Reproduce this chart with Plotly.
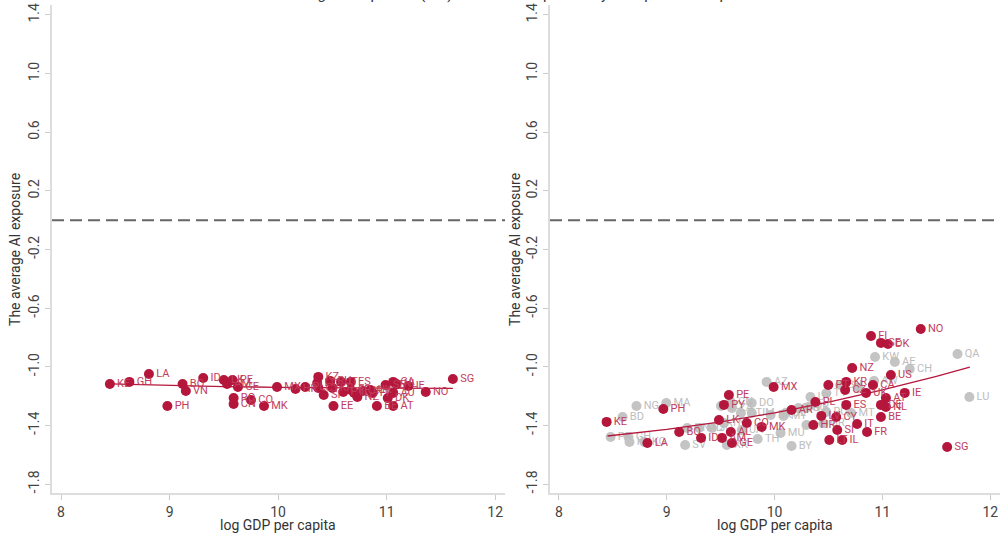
import plotly.graph_objects as go

# ---------------- data: left panel ----------------
left_codes = ["KE","GH","LA","PH","BO","VN","ID","LK","AM","PE","GE","RO","CN","CO","MK","MX",
              "HR","PL","KZ","LT","CY","SI","RU","KR","IT","PT","ES","FR","IL","NZ","JP","UK",
              "FI","EE","BE","SE","CA","NL","DK","AU","AT","IE","NO","SG"]
left_x = [8.45,8.63,8.81,8.98,9.12,9.15,9.31,9.50,9.53,9.58,9.63,9.59,9.59,9.75,9.87,9.99,
          10.16,10.25,10.37,10.36,10.37,10.42,10.48,10.50,10.58,10.60,10.67,10.67,10.70,10.73,10.78,10.85,
          10.87,10.51,10.91,10.99,11.06,11.09,11.01,11.06,11.06,11.20,11.36,11.61]
left_y = [-1.117,-1.103,-1.049,-1.267,-1.117,-1.165,-1.076,-1.090,-1.117,-1.090,-1.137,-1.213,-1.254,-1.226,-1.267,-1.138,
          -1.151,-1.138,-1.069,-1.110,-1.144,-1.192,-1.097,-1.144,-1.103,-1.172,-1.103,-1.158,-1.178,-1.206,-1.165,-1.158,
          -1.178,-1.267,-1.267,-1.124,-1.103,-1.117,-1.213,-1.178,-1.267,-1.131,-1.172,-1.083]
left_fit_x = [8.45, 9.0, 9.5, 10.0, 10.5, 11.0, 11.61]
left_fit_y = [-1.117, -1.127, -1.135, -1.140, -1.144, -1.146, -1.147]

# ---------------- data: right panel ----------------
red_codes = ["KE","PH","LA","BO","ID","AM","GE","PE","PY","LK","AL","CO","MK","MX",
             "AR","PL","HR","LV","LT","SI","IL","CY","ES","IT","FR","BE","NL","AT","DE","IE",
             "UK","CA","KR","PT","CZ","US","NZ","FI","SE","DK","NO","SG"]
red_x = [8.442,8.968,8.820,9.115,9.318,9.512,9.604,9.576,9.530,9.484,9.594,9.742,9.880,9.991,
         10.157,10.378,10.359,10.433,10.507,10.581,10.627,10.571,10.664,10.765,10.857,10.986,11.032,11.032,10.986,11.207,
         10.848,10.912,10.664,10.498,10.654,11.078,10.719,10.894,10.986,11.051,11.355,11.600]
red_y = [-1.376,-1.288,-1.520,-1.445,-1.485,-1.485,-1.520,-1.192,-1.260,-1.363,-1.445,-1.383,-1.410,-1.138,
         -1.295,-1.240,-1.397,-1.335,-1.499,-1.431,-1.499,-1.342,-1.260,-1.390,-1.445,-1.342,-1.274,-1.213,-1.260,-1.178,
         -1.178,-1.124,-1.103,-1.124,-1.158,-1.056,-1.008,-0.790,-0.837,-0.844,-0.742,-1.547]

gray_codes = ["PK","BD","NG","MA","GH","KH","KG","SV","HN","MD","JO","TN","UA","GT","JM","DO",
              "EC","CN","ZA","BR","TH","MU","XK","AZ","CL","BY","KW","AE","CH","QA","AW","JP",
              "BH","TT","LU","MT","UY","MY","BG","RO","TR","HU","RU","GR"]
gray_x = [8.479,8.590,8.719,8.995,8.645,8.654,8.793,9.170,9.189,9.300,9.419,9.530,9.696,9.687,9.788,9.788,
          9.502,9.594,9.604,9.963,9.843,10.055,9.557,9.926,10.101,10.157,10.931,11.115,11.253,11.696,10.922,10.774,
          10.608,10.479,11.806,10.710,10.332,10.083,10.221,10.286,10.313,10.295,10.479,10.452]
gray_y = [-1.479,-1.342,-1.267,-1.247,-1.479,-1.513,-1.513,-1.533,-1.418,-1.418,-1.418,-1.383,-1.431,-1.315,-1.315,-1.247,
          -1.267,-1.240,-1.281,-1.329,-1.492,-1.451,-1.533,-1.103,-1.315,-1.540,-0.933,-0.967,-1.015,-0.913,-1.097,-1.144,
          -1.124,-1.180,-1.206,-1.315,-1.206,-1.336,-1.281,-1.281,-1.274,-1.397,-1.308,-1.383]
right_fit_x = [8.45, 9.0, 9.5, 10.0, 10.5, 11.0, 11.5, 11.81]
right_fit_y = [-1.472, -1.427, -1.376, -1.314, -1.241, -1.158, -1.065, -1.002]

x_ticks = [8, 9, 10, 11, 12]
y_ticks = [1.4, 1.0, 0.6, 0.2, -0.2, -0.6, -1.0, -1.4, -1.8]
y_tick_text = ["1.4", "1.0", "0.6", "0.2", "-0.2", "-0.6", "-1.0", "-1.4", "-1.8"]

RED = "#b5163c"
RED_TXT = "#c23d5c"
GRAY = "#c4c4c4"
GRAY_TXT = "#bdbdbd"
FONT = "Roboto"

fig = go.Figure()

# left panel
fig.add_trace(go.Scatter(x=left_fit_x, y=left_fit_y, mode="lines",
                         line=dict(color=RED, width=1.3), xaxis="x", yaxis="y",
                         hoverinfo="skip", showlegend=False))
fig.add_trace(go.Scatter(x=left_x, y=left_y, mode="markers+text", text=left_codes,
                         textposition="middle right",
                         textfont=dict(family=FONT, size=11, color=RED_TXT),
                         marker=dict(color=RED, size=10),
                         xaxis="x", yaxis="y", showlegend=False))

# right panel
fig.add_trace(go.Scatter(x=gray_x, y=gray_y, mode="markers+text", text=gray_codes,
                         textposition="middle right",
                         textfont=dict(family=FONT, size=11, color=GRAY_TXT),
                         marker=dict(color=GRAY, size=10),
                         xaxis="x2", yaxis="y2", showlegend=False))
fig.add_trace(go.Scatter(x=right_fit_x, y=right_fit_y, mode="lines",
                         line=dict(color=RED, width=1.3), xaxis="x2", yaxis="y2",
                         hoverinfo="skip", showlegend=False))
fig.add_trace(go.Scatter(x=red_x, y=red_y, mode="markers+text", text=red_codes,
                         textposition="middle right",
                         textfont=dict(family=FONT, size=11, color=RED_TXT),
                         marker=dict(color=RED, size=10),
                         xaxis="x2", yaxis="y2", showlegend=False))

xaxis_common = dict(range=[7.917, 12.09], tickvals=x_ticks, ticktext=[str(t) for t in x_ticks],
                    showline=True, linecolor="#dddddd", linewidth=2, ticks="outside",
                    ticklen=5, tickcolor="#cccccc", tickwidth=1, showgrid=False, zeroline=False,
                    tickfont=dict(family=FONT, size=14, color="#444444"),
                    automargin=False)
yaxis_common = dict(range=[-1.861, 1.468], tickvals=y_ticks, ticktext=y_tick_text,
                    tickangle=-90, showline=True, linecolor="#dddddd", linewidth=2,
                    ticks="outside", ticklen=5, tickcolor="#cccccc", tickwidth=1,
                    showgrid=False, zeroline=False,
                    tickfont=dict(family=FONT, size=14, color="#444444"),
                    domain=[0.0887, 0.9908], automargin=False)

xa1 = dict(xaxis_common); xa1.update(domain=[0.052, 0.505], anchor="y")
xa2 = dict(xaxis_common); xa2.update(domain=[0.550, 1.0], anchor="y2")
ya1 = dict(yaxis_common); ya1.update(anchor="x")
ya2 = dict(yaxis_common); ya2.update(anchor="x2")

title_font = dict(family=FONT, size=14, color="#333333")

fig.update_layout(
    width=1000, height=541,
    margin=dict(l=0, r=0, t=0, b=0, autoexpand=False),
    paper_bgcolor="white", plot_bgcolor="white",
    xaxis=xa1, yaxis=ya1, xaxis2=xa2, yaxis2=ya2,
    font=dict(family=FONT),
    shapes=[
        dict(type="line", xref="x domain", yref="y", x0=0, x1=1, y0=0, y1=0,
             line=dict(color="#666666", width=2, dash="12px,6px")),
        dict(type="line", xref="x2 domain", yref="y2", x0=0, x1=1, y0=0, y1=0,
             line=dict(color="#666666", width=2, dash="12px,6px")),
    ],
    annotations=[
        dict(text="Average AI exposure (ILO)", xref="paper", yref="paper", x=0.278, y=1.0,
             yanchor="bottom", yshift=-5, showarrow=False,
             font=dict(family=FONT, size=15, color="#333333")),
        dict(text="AI exposure by occupation composition", xref="paper", yref="paper", x=0.775, y=1.0,
             yanchor="bottom", yshift=-5, showarrow=False,
             font=dict(family=FONT, size=15, color="#333333")),
        dict(text="The average AI exposure", xref="paper", yref="paper", x=0.015, y=0.538,
             xanchor="center", yanchor="middle", textangle=-90, showarrow=False, font=title_font),
        dict(text="The average AI exposure", xref="paper", yref="paper", x=0.515, y=0.538,
             xanchor="center", yanchor="middle", textangle=-90, showarrow=False, font=title_font),
        dict(text="log GDP per capita", xref="paper", yref="paper", x=0.278, y=0.0296,
             xanchor="center", yanchor="middle", showarrow=False, font=title_font),
        dict(text="log GDP per capita", xref="paper", yref="paper", x=0.775, y=0.0296,
             xanchor="center", yanchor="middle", showarrow=False, font=title_font),
    ],
)

fig.write_html("out.html", config={"displayModeBar": False},
               post_script="document.body.style.margin='0';document.body.style.padding='0';")
